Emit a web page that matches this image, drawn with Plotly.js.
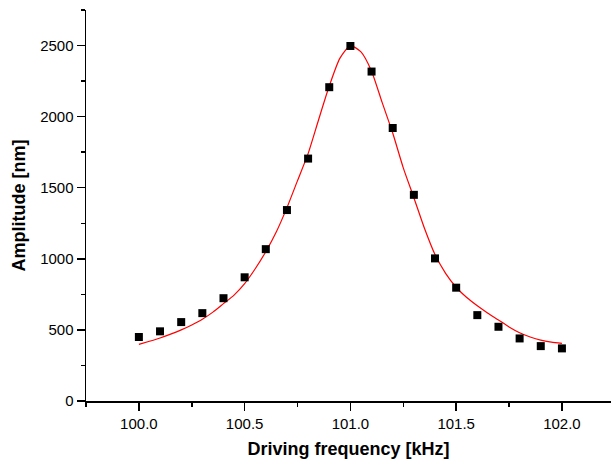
<!DOCTYPE html>
<html>
<head>
<meta charset="utf-8">
<script src="https://cdn.plot.ly/plotly-3.0.1.min.js"></script>
<style>
  html, body { margin: 0; padding: 0; background: #fff; overflow: hidden; }
  #chart { width: 611px; height: 465px; }
</style>
</head>
<body>
<div id="chart"></div>
<script>
// Measured resonance amplitudes
const freq = [100.0, 100.1, 100.2, 100.3, 100.4, 100.5, 100.6, 100.7, 100.8, 100.9,
              101.0, 101.1, 101.2, 101.3, 101.4, 101.5, 101.6, 101.7, 101.8, 101.9, 102.0];
const amplitude = [450, 490, 555, 618, 723, 870, 1068, 1343, 1705, 2207,
                   2497, 2317, 1920, 1450, 1003, 797, 604, 522, 440, 386, 370];

// Fitted resonance curve
const fitFreq = [100.00, 100.05, 100.10, 100.15, 100.20, 100.25, 100.30, 100.35, 100.40, 100.45,
                 100.50, 100.55, 100.60, 100.65, 100.70, 100.75, 100.80, 100.85, 100.90, 100.95,
                 101.00, 101.05, 101.10, 101.15, 101.20, 101.25, 101.30, 101.35, 101.40, 101.45,
                 101.50, 101.55, 101.60, 101.65, 101.70, 101.75, 101.80, 101.85, 101.90, 101.95, 102.00];
const fitAmp = [398, 420, 443, 470, 500, 535, 575, 625, 685, 745,
                825, 930, 1050, 1190, 1360, 1550, 1740, 1980, 2215, 2410,
                2500, 2455, 2320, 2100, 1885, 1640, 1430, 1215, 1030, 898,
                800, 728, 670, 618, 570, 521, 480, 450, 428, 414, 405];

const xTickVals = [100.0, 100.5, 101.0, 101.5, 102.0];
const xTickText = ['100.0', '100.5', '101.0', '101.5', '102.0'];
const yTickVals = [0, 500, 1000, 1500, 2000, 2500];

const font = 'Liberation Sans, Arial, Helvetica, sans-serif';

const traces = [
  {
    x: fitFreq, y: fitAmp, type: 'scatter', mode: 'lines',
    line: { color: '#ff0000', width: 1.2, shape: 'spline', smoothing: 0.6 },
    hoverinfo: 'skip'
  },
  {
    x: freq, y: amplitude, type: 'scatter', mode: 'markers',
    marker: { symbol: 'square', size: 8, color: '#000000' }
  }
];

const layout = {
  width: 611, height: 465,
  margin: { l: 86, r: 0, t: 10, b: 64, pad: 0 },
  paper_bgcolor: '#ffffff', plot_bgcolor: '#ffffff',
  showlegend: false,
  font: { family: font, size: 15, color: '#000' },
  xaxis: {
    range: [99.75, 102.232],
    tickmode: 'array', tickvals: xTickVals, ticktext: xTickText,
    ticks: 'outside', ticklen: 8, tickwidth: 1.5, tickcolor: '#000',
    minor: { ticks: 'outside', dtick: 0.25, tick0: 99.75, ticklen: 4, tickwidth: 1.5, tickcolor: '#000' },
    showline: true, linecolor: '#000', linewidth: 1.5,
    showgrid: false, zeroline: false,
    tickfont: { family: font, size: 15, color: '#000' },
    title: { text: 'Driving frequency [kHz]', font: { family: font, size: 18, color: '#000', weight: 'bold' }, standoff: 12 }
  },
  yaxis: {
    range: [0, 2750],
    tickmode: 'array', tickvals: yTickVals,
    ticks: 'outside', ticklen: 8, tickwidth: 1.5, tickcolor: '#000',
    minor: { ticks: 'outside', dtick: 250, tick0: 0, ticklen: 4, tickwidth: 1.5, tickcolor: '#000' },
    showline: true, linecolor: '#000', linewidth: 1.5,
    showgrid: false, zeroline: false,
    tickfont: { family: font, size: 15, color: '#000' },
    title: { text: 'Amplitude [nm]', font: { family: font, size: 18, color: '#000', weight: 'bold' }, standoff: 10 }
  }
};

Plotly.newPlot('chart', traces, layout, { staticPlot: true, displayModeBar: false });
</script>
</body>
</html>
